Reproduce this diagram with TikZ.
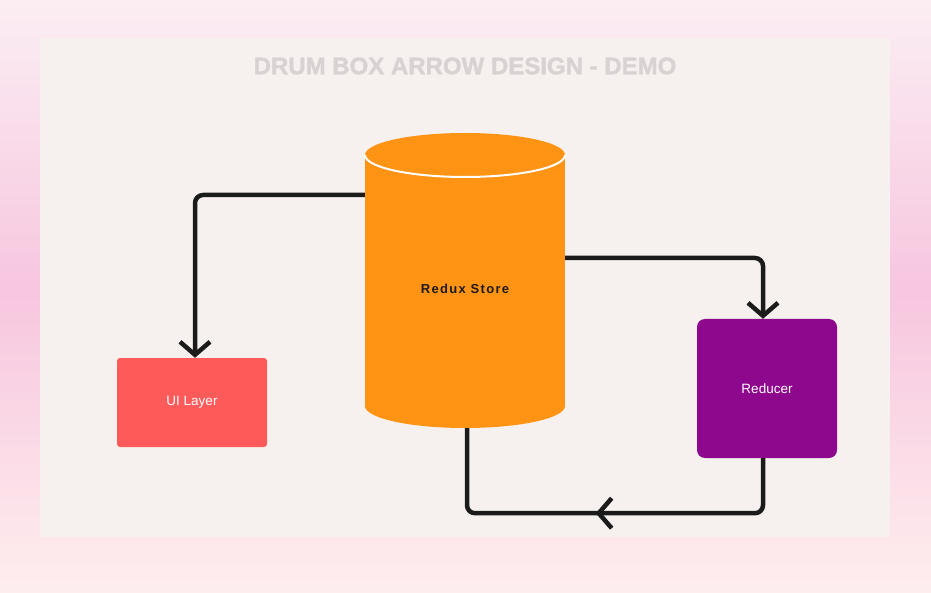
\documentclass[tikz,border=0pt]{standalone}
\usepackage{fontspec}
\setmainfont{Liberation Sans}
\usetikzlibrary{arrows.meta,decorations.markings}
\definecolor{bgtop}{HTML}{FBEEF3}
\definecolor{bgmid}{HTML}{F7C6DF}
\definecolor{bgbot}{HTML}{FEEEEE}
\definecolor{panel}{HTML}{F6F1EE}
\definecolor{titlegray}{HTML}{D9D2D3}
\definecolor{uired}{HTML}{FF5A5A}
\definecolor{redpurple}{HTML}{8E088E}
\definecolor{drum}{HTML}{FF9313}
\definecolor{ink}{HTML}{1B1B1B}
\tikzset{
  boxnode/.style={rectangle, inner sep=0pt, text=white, font=\fontsize{13.5}{16}\selectfont},
  conn/.style={draw=ink, line width=4.5pt, rounded corners=8pt, line join=round},
  tipbarb/.tip={Straight Barb[length=13pt,width=30pt,line width=4.5pt]},
}
\begin{document}
\begin{tikzpicture}[x=1pt,y=-1pt]
\useasboundingbox (0,0) rectangle (931,593);
% background gradient in strips
\foreach \i in {0,...,118}{
  \pgfmathsetmacro{\ya}{\i*5}
  \pgfmathsetmacro{\yb}{\i*5+5.6}
  \ifnum\i<58
    \pgfmathtruncatemacro{\p}{round((\i*5+2.5)/2.9)}
    \fill[bgmid!\p!bgtop] (0,\ya) rectangle (931,\yb);
  \else
    \pgfmathtruncatemacro{\p}{round((593-\i*5-2.5)/3.03)}
    \fill[bgmid!\p!bgbot] (0,\ya) rectangle (931,\yb);
  \fi
}
\fill[panel] (40,38) rectangle (890,537);
\node[text=titlegray, font=\bfseries\addfontfeatures{FakeBold=1.5}\fontsize{24}{28}\selectfont] (title) at (465,66) {DRUM BOX ARROW DESIGN - DEMO};
% drum
\fill[drum] (365,155) rectangle (565,406);
\fill[drum] (465,406) ellipse [x radius=100pt, y radius=22pt];
\fill[drum] (465,155) ellipse [x radius=100pt, y radius=22pt];
\draw[white, line width=2pt] (365,155) arc[start angle=180, end angle=360, x radius=100pt, y radius=22pt];
\node[rectangle, inner sep=0pt, minimum width=200pt, minimum height=278pt, text=ink,
  font=\bfseries\addfontfeatures{LetterSpace=10}\fontsize{13}{15}\selectfont] (store) at (465,289) {Redux Store};
% boxes
\node[boxnode, fill=uired, rounded corners=3pt, minimum width=150pt, minimum height=89pt] (ui) at (192,402.5) {UI Layer};
\node[boxnode, fill=redpurple, rounded corners=8pt, minimum width=140pt, minimum height=139pt] (reducer) at (767,388.5) {Reducer};
% connectors
\draw[conn, -tipbarb] ([yshift=94pt]store.west) -| ([xshift=3pt]ui.north);
\draw[conn, -tipbarb] ([yshift=31pt]store.east) -| ([xshift=-4pt]reducer.north);
\draw[conn, postaction={decorate}, decoration={markings, mark=at position 0.51 with {\arrow{tipbarb}}}]
  ([xshift=-4pt]reducer.south) -- ++(0,55) -| ([xshift=2pt]store.south);
\end{tikzpicture}
\end{document}
